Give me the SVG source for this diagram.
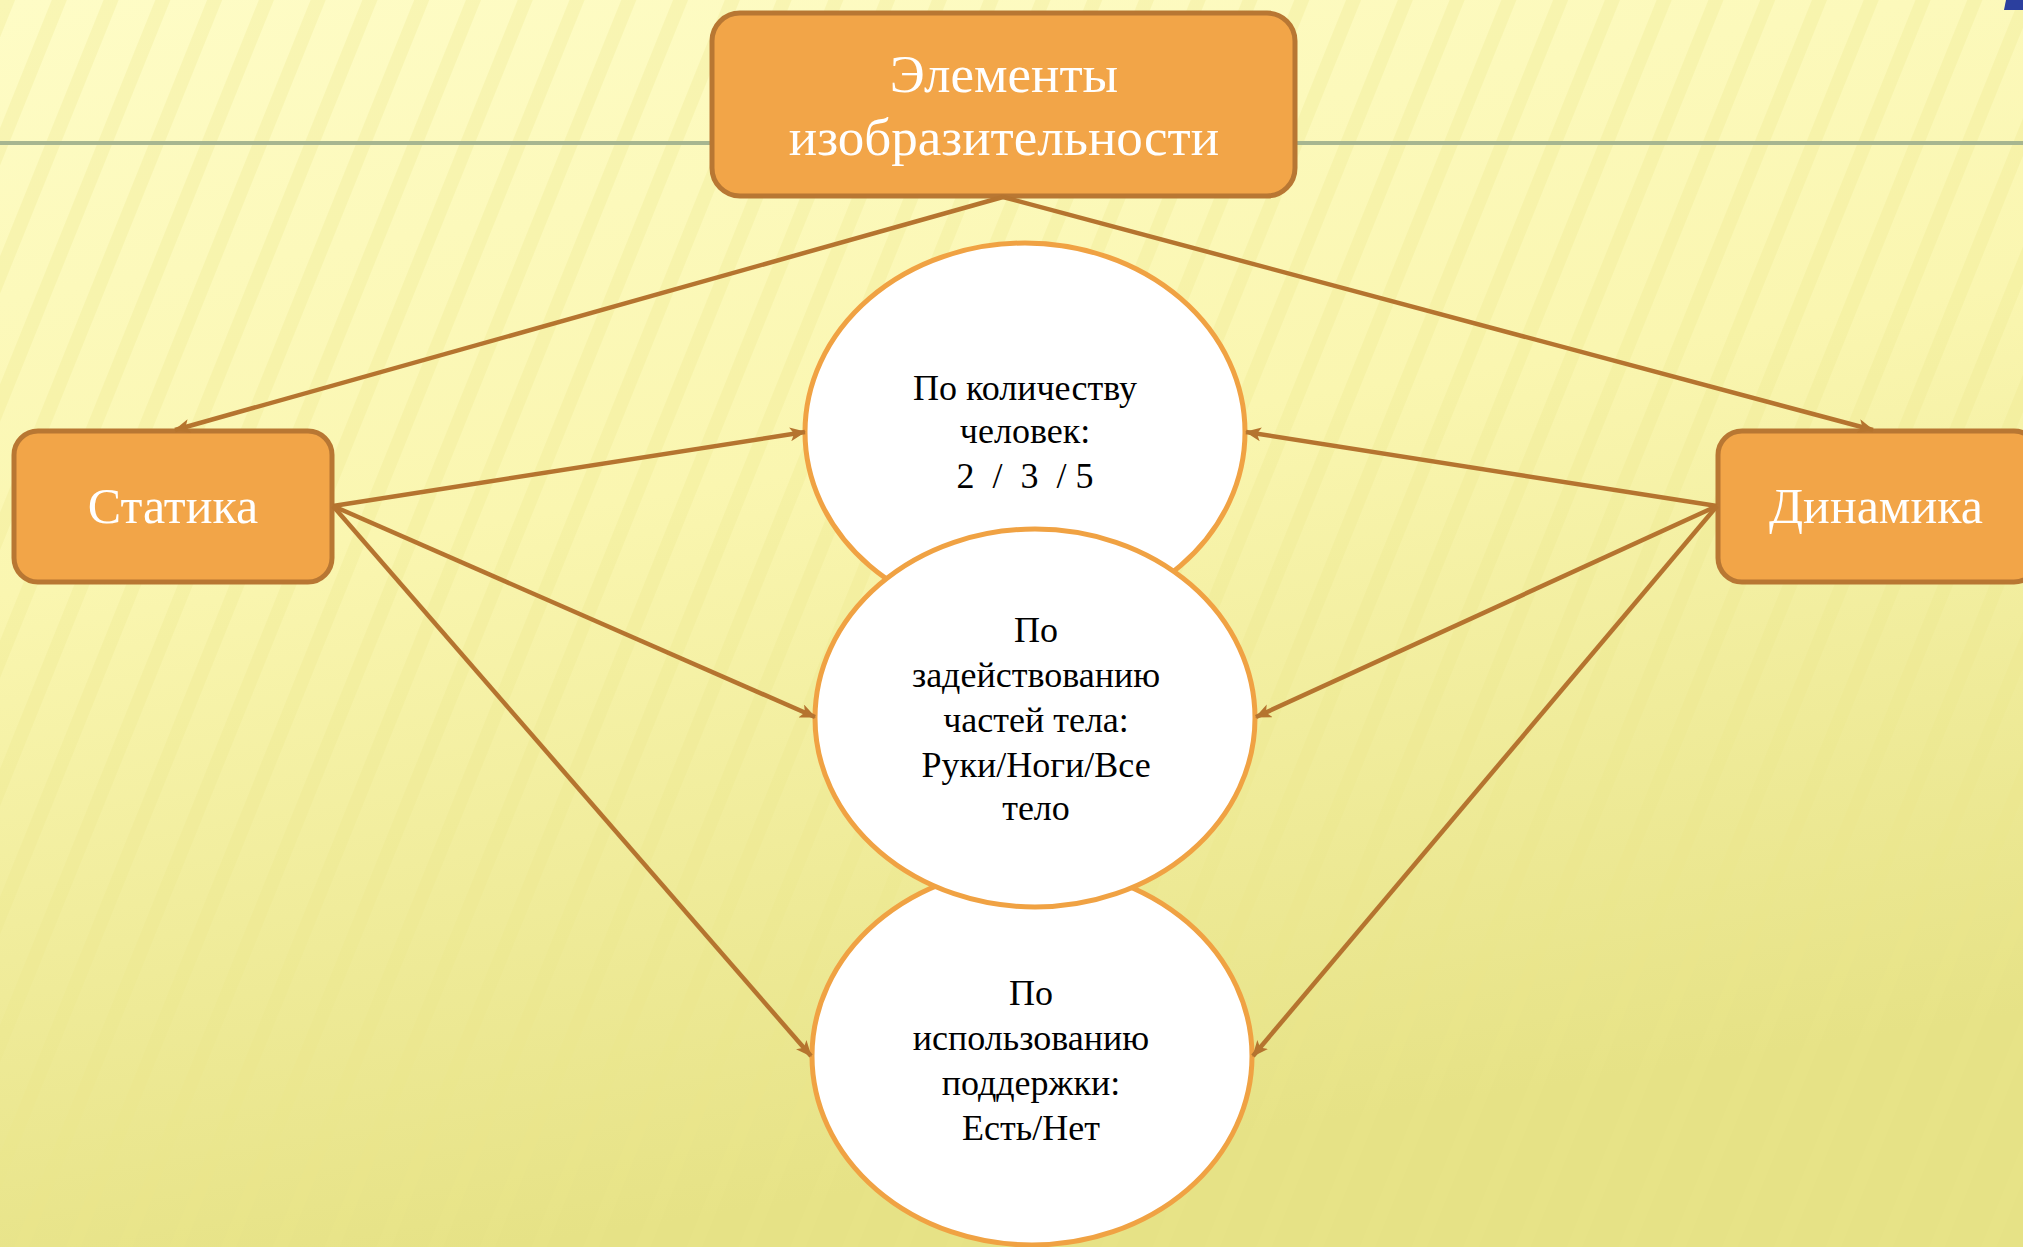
<svg xmlns="http://www.w3.org/2000/svg" width="2023" height="1247" viewBox="0 0 2023 1247">
<defs>
<linearGradient id="bg" x1="0" y1="0" x2="0.25" y2="1">
<stop offset="0" stop-color="#fefcc6"/>
<stop offset="0.45" stop-color="#faf6b0"/>
<stop offset="1" stop-color="#e6e286"/>
</linearGradient>
<pattern id="stripes" width="48" height="48" patternUnits="userSpaceOnUse" patternTransform="rotate(22)">
<rect x="0" y="0" width="14" height="48" fill="#ebe68a"/>
</pattern>
<marker id="arr" viewBox="0 0 16 14" refX="15" refY="7" markerWidth="16" markerHeight="14" markerUnits="userSpaceOnUse" orient="auto">
<path d="M0,0 L16,7 L0,14 L4,7 z" fill="#b5742f"/>
</marker>
<style>
.box{fill:#f2a548;stroke:#b87733;stroke-width:5}
.ell{fill:#ffffff;stroke:#f0a243;stroke-width:5}
.bt{font-family:"Liberation Serif","Times New Roman",serif;fill:#ffffff;text-anchor:middle}
.et{font-family:"Liberation Serif","Times New Roman",serif;fill:#000000;font-size:36px;text-anchor:middle}
.con{stroke:#b5742f;stroke-width:4.5;fill:none;marker-end:url(#arr)}
</style>
</defs>
<rect x="0" y="0" width="2023" height="1247" fill="url(#bg)"/>
<rect x="0" y="0" width="2023" height="1247" fill="url(#stripes)" opacity="0.28"/>
<line x1="0" y1="143" x2="2023" y2="143" stroke="#a7b690" stroke-width="4"/>
<path d="M2006,0 L2023,0 L2023,10 L2004,10 z" fill="#2b3f9e"/>

<g id="node-statika">
<rect class="box" x="14" y="431" width="318" height="151" rx="24"/>
<text class="bt" x="173" y="523" font-size="50">Статика</text>
</g>
<g id="node-dinamika">
<rect class="box" x="1718" y="431" width="320" height="151" rx="24"/>
<text class="bt" x="1876" y="523" font-size="50">Динамика</text>
</g>
<g id="node-top">
<rect class="box" x="712" y="13" width="583" height="183" rx="28"/>
<text class="bt" x="1004" y="92" font-size="53">Элементы</text>
<text class="bt" x="1004" y="155" font-size="53">изобразительности</text>
</g>
<g id="node-e1">
<ellipse class="ell" cx="1025" cy="432" rx="220" ry="189"/>
<text class="et" x="1025" y="400">По количеству</text>
<text class="et" x="1025" y="443">человек:</text>
<text class="et" x="1025" y="488" xml:space="preserve">2  /  3  / 5</text>
</g>
<g id="node-e3">
<ellipse class="ell" cx="1032" cy="1056" rx="220" ry="189"/>
<text class="et" x="1031" y="1005">По</text>
<text class="et" x="1031" y="1050">использованию</text>
<text class="et" x="1031" y="1095">поддержки:</text>
<text class="et" x="1031" y="1140">Есть/Нет</text>
</g>
<g id="node-e2">
<ellipse class="ell" cx="1035" cy="718" rx="220" ry="189"/>
<text class="et" x="1036" y="642">По</text>
<text class="et" x="1036" y="687">задействованию</text>
<text class="et" x="1036" y="732">частей тела:</text>
<text class="et" x="1036" y="777">Руки/Ноги/Все</text>
<text class="et" x="1036" y="820">тело</text>
</g>

<g id="connectors">
<line class="con" x1="1003" y1="197" x2="175" y2="430"/>
<line class="con" x1="1003" y1="197" x2="1873" y2="430"/>
<line class="con" x1="333" y1="506" x2="805" y2="432"/>
<line class="con" x1="333" y1="506" x2="815" y2="717"/>
<line class="con" x1="333" y1="506" x2="811" y2="1056"/>
<line class="con" x1="1717" y1="506" x2="1246" y2="432"/>
<line class="con" x1="1717" y1="506" x2="1256" y2="717"/>
<line class="con" x1="1717" y1="506" x2="1253" y2="1056"/>
</g>
</svg>
